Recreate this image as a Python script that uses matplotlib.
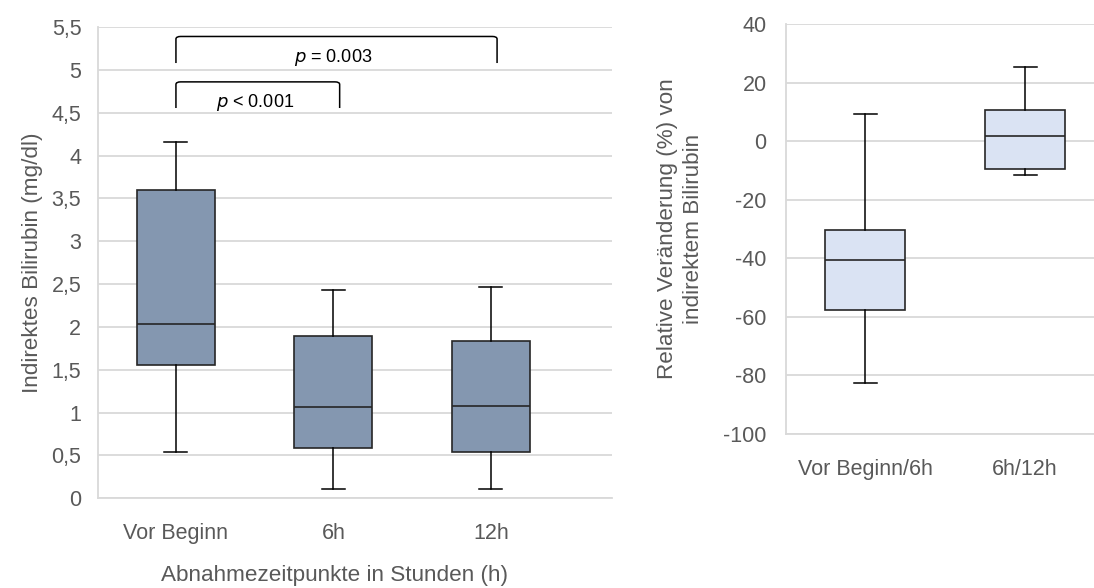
import matplotlib.pyplot as plt
from matplotlib.path import Path
from matplotlib.patches import PathPatch

plt.rcParams['font.family'] = ['Liberation Sans', 'DejaVu Sans']

# Indirektes Bilirubin (mg/dl) je Abnahmezeitpunkt
zeitpunkte = ['Vor Beginn', '6h', '12h']
whisker_lo = [0.54, 0.11, 0.11]
q1 = [1.555, 0.59, 0.545]
median = [2.03, 1.07, 1.077]
q3 = [3.60, 1.895, 1.835]
whisker_hi = [4.16, 2.43, 2.47]

# Relative Veränderung (%)
vergleiche = ['Vor Beginn/6h', '6h/12h']
rel_lo = [-82.5, -11.5]
rel_q1 = [-57.6, -9.5]
rel_med = [-40.7, 1.7]
rel_q3 = [-30.3, 10.7]
rel_hi = [9.4, 25.5]

# Signifikanz-Klammern: (von, bis, text)
brackets = [(0, 2.04, '0.003', '='), (0, 1.04, '0.001', '<')]
bracket_y = [(5.39, 5.08), (4.86, 4.555)]

grid_c = '#D9D9D9'
text_c = '#595959'


def stats(lo, a, m, b, hi, labels):
    return [dict(whislo=lo[i], q1=a[i], med=m[i], q3=b[i], whishi=hi[i],
                 fliers=[], label=labels[i]) for i in range(len(labels))]


def style(ax, ypad):
    ax.grid(axis='y', color=grid_c, linewidth=1.3)
    ax.set_axisbelow(True)
    for s in ['top', 'right']:
        ax.spines[s].set_visible(False)
    for s in ['left', 'bottom']:
        ax.spines[s].set_color(grid_c)
        ax.spines[s].set_linewidth(1.3)
    ax.tick_params(length=0, colors=text_c)
    ax.tick_params(axis='y', labelsize=15.5, pad=ypad)
    ax.tick_params(axis='x', labelsize=15.5, pad=18)


def bracket(ax, x0, x1, ytop, ylow, r=0.03, ry=0.03):
    # Klammer mit leicht gerundeten Ecken
    verts = [(x0, ylow), (x0, ytop - ry), (x0, ytop), (x0 + r, ytop),
             (x1 - r, ytop), (x1, ytop), (x1, ytop - ry), (x1, ylow)]
    codes = [Path.MOVETO, Path.LINETO, Path.CURVE3, Path.CURVE3,
             Path.LINETO, Path.CURVE3, Path.CURVE3, Path.LINETO]
    ax.add_patch(PathPatch(Path(verts, codes), fill=False, edgecolor='black',
                           linewidth=1.1, clip_on=False))


fig = plt.figure(figsize=(10.94, 5.88), dpi=100)
ax1 = fig.add_axes([0.0896, 0.1526, 0.4698, 0.8014])
ax2 = fig.add_axes([0.7185, 0.262, 0.2815, 0.697])

box_kw = dict(patch_artist=True, showfliers=False,
              medianprops=dict(color='#262626', linewidth=1.2),
              whiskerprops=dict(color='black', linewidth=1.1),
              capprops=dict(color='black', linewidth=1.1))

b1 = ax1.bxp(stats(whisker_lo, q1, median, q3, whisker_hi, zeitpunkte),
             positions=range(len(zeitpunkte)), widths=0.495, capwidths=0.146, **box_kw)
for p in b1['boxes']:
    p.set_facecolor('#8497B0')
    p.set_edgecolor('#262626')
    p.set_linewidth(1.2)

ax1.set_xlim(-0.495, 2.77)
ax1.set_ylim(0, 5.5)
ax1.set_yticks([i * 0.5 for i in range(12)])
ax1.set_yticklabels([f'{i * 0.5:g}'.replace('.', ',') for i in range(12)])
style(ax1, 12)
ax1.set_ylabel('Indirektes Bilirubin (mg/dl)', color=text_c, fontsize=16.2, labelpad=6)
ax1.set_xlabel('Abnahmezeitpunkte in Stunden (h)', color=text_c, fontsize=16.2)
ax1.xaxis.set_label_coords(0.461, -0.163, transform=ax1.transAxes)
ax1.xaxis.label.set_va('center')

for (x0, x1, val, op), (ytop, ylow) in zip(brackets, bracket_y):
    bracket(ax1, x0, x1, ytop, ylow)
    ax1.text((x0 + x1) / 2 - 0.02, ylow + 0.07, f'$p$ {op} {val}', ha='center',
             va='center', fontsize=13, color='black')

b2 = ax2.bxp(stats(rel_lo, rel_q1, rel_med, rel_q3, rel_hi, vergleiche),
             positions=range(len(vergleiche)), widths=0.5, capwidths=0.144, **box_kw)
for p in b2['boxes']:
    p.set_facecolor('#DAE3F3')
    p.set_edgecolor('#262626')
    p.set_linewidth(1.2)

ax2.set_xlim(-0.494, 1.43)
ax2.set_ylim(-100, 40)
ax2.set_yticks(range(-100, 41, 20))
ax2.set_yticklabels([str(v) for v in range(-100, 41, 20)])
style(ax2, 14)
ax2.set_ylabel('Relative Veränderung (%) von\nindirektem Bilirubin', color=text_c,
               fontsize=16.2, labelpad=14, linespacing=1.3)

fig.savefig('out.png', dpi=100)
